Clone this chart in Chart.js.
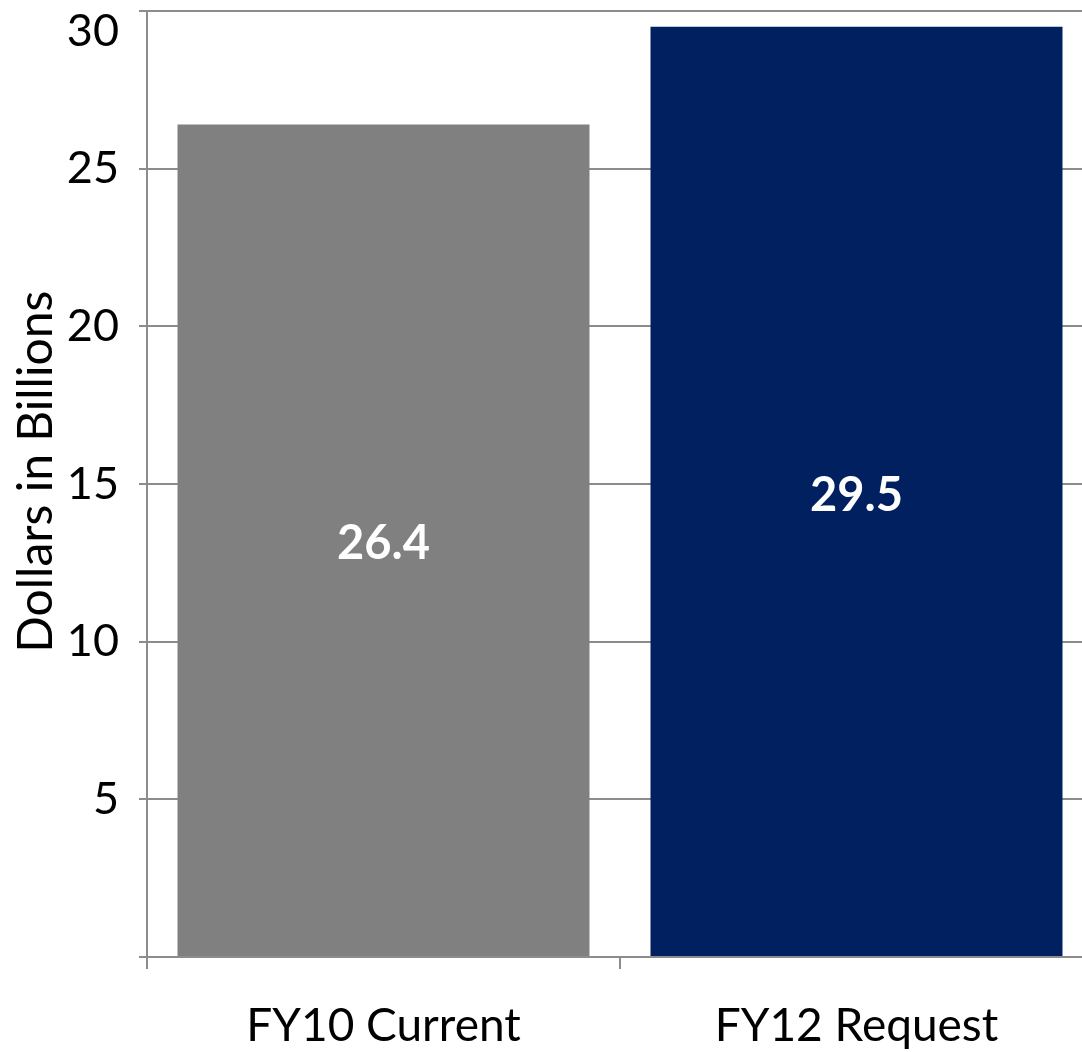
<!DOCTYPE html>
<html>
<head>
<meta charset="utf-8">
<script src="https://cdn.jsdelivr.net/npm/chart.js@4/dist/chart.umd.min.js"></script>
<style>
  html, body { margin: 0; padding: 0; background: #fff; overflow: hidden; }
  /* un poco más ancho que la ventana: el área del gráfico se corta por la derecha como en el original */
  #wrap { width: 1093px; height: 1052px; }
</style>
</head>
<body>
<div id="wrap"><canvas id="grafico"></canvas></div>
<script>
const categorias = ["FY10 Current", "FY12 Request"];
const valores = [26.4, 29.5];
const coloresBarras = ["#808080", "#002060"];
const tituloEjeY = "Dollars in Billions";

const fuente = "Lato, 'Open Sans', sans-serif";

// etiquetas blancas en el centro de cada barra
const etiquetasBarras = {
    id: 'etiquetasBarras',
    afterDatasetsDraw(chart) {
        const ctx = chart.ctx;
        const meta = chart.getDatasetMeta(0);
        ctx.save();
        ctx.fillStyle = '#ffffff';
        ctx.font = "bold 47px " + fuente;
        ctx.textAlign = 'center';
        ctx.textBaseline = 'middle';
        meta.data.forEach((barra, i) => {
            const y = (barra.y + barra.base) / 2;
            ctx.fillText(valores[i].toFixed(1), barra.x, y + 4);
        });
        ctx.restore();
    }
};

new Chart(document.getElementById('grafico'), {
    type: 'bar',
    data: {
        labels: categorias,
        datasets: [{
            data: valores,
            backgroundColor: coloresBarras,
            borderWidth: 0,
            categoryPercentage: 1.0,
            barPercentage: 0.871
        }]
    },
    options: {
        responsive: true,
        maintainAspectRatio: false,
        animation: false,
        layout: { padding: { top: 11, right: 0, left: 0, bottom: 0 } },
        plugins: {
            legend: { display: false },
            tooltip: { enabled: false }
        },
        scales: {
            x: {
                grid: {
                    display: true,
                    drawOnChartArea: false,
                    color: '#8c8c8c',
                    lineWidth: 2,
                    tickLength: 12
                },
                border: { color: '#8c8c8c', width: 2 },
                ticks: {
                    color: '#000',
                    padding: 30,
                    font: { family: fuente, size: 46 }
                },
                afterFit(scale) { scale.height = 95; }
            },
            y: {
                min: 0,
                max: 30,
                grid: {
                    color: '#8c8c8c',
                    lineWidth: 2,
                    tickLength: 8
                },
                border: { color: '#8c8c8c', width: 2 },
                ticks: {
                    stepSize: 5,
                    color: '#000',
                    padding: 20,
                    font: { family: fuente, size: 45, lineHeight: 0.9 },
                    // el 30 va un poco más abajo para no salirse por arriba
                    callback: v => v === 0 ? '' : (v === 30 ? ['', '30'] : v)
                },
                title: {
                    display: true,
                    // espacios delante para subir un poco el título
                    text: '\u00a0\u00a0' + tituloEjeY,
                    color: '#000',
                    padding: { top: 8, bottom: 0 },
                    font: { family: fuente, size: 48 }
                },
                afterFit(scale) {
                    scale.width = 147;
                    scale.paddingTop = 0;
                    scale.paddingBottom = 0;
                }
            }
        }
    },
    plugins: [etiquetasBarras]
});
</script>
</body>
</html>
